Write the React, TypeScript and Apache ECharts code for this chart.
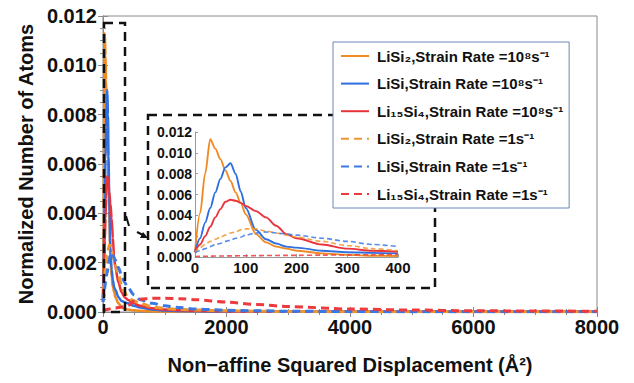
import React, { useEffect, useRef } from "react";
import * as echarts from "echarts";

// x positions (Å^2)
const xs = [0, 10, 20, 30, 40, 50, 60, 70, 80, 90, 100, 120, 140, 160, 180, 200, 250, 300, 350, 400, 500, 600, 800, 1000, 1250, 1500, 2000, 2500, 3000, 4000, 5000, 6000, 7000, 8000];

const liSi2Fast = [0.0005, 0.0042, 0.0080, 0.0113, 0.0104, 0.0094, 0.0083, 0.0073, 0.0062, 0.0052, 0.0041, 0.0022, 0.0014, 0.0010, 0.0008, 0.0006, 0.00035, 0.0002, 0.00012, 0.0001, 0.00007, 0.00005, 0.00003, 0.00002, 0.00002, 0.00001, 0.00001, 0.00001, 0.00001, 0.00001, 0.00001, 0.00001, 0.00001, 0.00001];
const liSiFast = [0.0005, 0.0018, 0.0033, 0.0047, 0.0062, 0.0075, 0.0086, 0.0090, 0.0080, 0.0063, 0.0047, 0.0026, 0.0017, 0.0013, 0.0010, 0.0009, 0.0006, 0.00045, 0.0004, 0.00035, 0.00025, 0.00018, 0.0001, 0.00006, 0.00004, 0.00003, 0.00002, 0.00001, 0.00001, 0.00001, 0.00001, 0.00001, 0.00001, 0.00001];
const li15Si4Fast = [0.0005, 0.0012, 0.0020, 0.0029, 0.0038, 0.0046, 0.0053, 0.0055, 0.0054, 0.0052, 0.0049, 0.0044, 0.0038, 0.0030, 0.0022, 0.0018, 0.0012, 0.0008, 0.0006, 0.0005, 0.00035, 0.00025, 0.00015, 0.0001, 0.00007, 0.00005, 0.00003, 0.00002, 0.00002, 0.00001, 0.00001, 0.00001, 0.00001, 0.00001];
const liSi2Slow = [0.0004, 0.0009, 0.0012, 0.0015, 0.0017, 0.0019, 0.0021, 0.0023, 0.0024, 0.0026, 0.0027, 0.0027, 0.0025, 0.0023, 0.0021, 0.0019, 0.0015, 0.0011, 0.0008, 0.0006, 0.00045, 0.00035, 0.0002, 0.00015, 0.0001, 0.00008, 0.00005, 0.00003, 0.00002, 0.00001, 0.00001, 0.00001, 0.00001, 0.00001];
const liSiSlow = [0.0004, 0.0006, 0.0008, 0.0010, 0.0012, 0.0013, 0.0015, 0.0016, 0.0018, 0.0019, 0.0021, 0.0023, 0.0024, 0.0023, 0.0022, 0.0021, 0.0018, 0.0015, 0.0012, 0.0010, 0.0007, 0.0005, 0.00035, 0.00025, 0.00018, 0.00012, 0.00007, 0.00005, 0.00003, 0.00002, 0.00001, 0.00001, 0.00001, 0.00001];
const li15Si4Slow = [0.00005, 0.00006, 0.00007, 0.00008, 0.00009, 0.0001, 0.0001, 0.00011, 0.00011, 0.00012, 0.00012, 0.00013, 0.00014, 0.00015, 0.00016, 0.00016, 0.00018, 0.0002, 0.00022, 0.00025, 0.00045, 0.00052, 0.00056, 0.00056, 0.00054, 0.0005, 0.0004, 0.0003, 0.00022, 0.00012, 0.00008, 0.00005, 0.00004, 0.00003];

const seriesNames = [
  "LiSi₂,Strain Rate =10⁸s⁻¹",
  "LiSi,Strain Rate =10⁸s⁻¹",
  "Li₁₅Si₄,Strain Rate =10⁸s⁻¹",
  "LiSi₂,Strain Rate =1s⁻¹",
  "LiSi,Strain Rate =1s⁻¹",
  "Li₁₅Si₄,Strain Rate =1s⁻¹",
];
const seriesValues = [liSi2Fast, liSiFast, li15Si4Fast, liSi2Slow, liSiSlow, li15Si4Slow];
const seriesColors = ["#F08A24", "#2F6FE0", "#E8343C", "#F0962E", "#3A78E6", "#EC3A3E"];
const seriesDashed = [false, false, false, true, true, true];

const mainXTicks = { min: 0, max: 8000, interval: 2000 };
const mainYTicks = { min: 0, max: 0.012, interval: 0.002 };
const insetXTicks = { min: 0, max: 400, interval: 100 };
const insetMaxX = 400;

const FONT = "'Liberation Sans', Arial, Helvetica, sans-serif";

export default function App() {
  const ref = useRef<HTMLDivElement>(null);
  useEffect(() => {
    if (!ref.current) return;
    const chart = echarts.init(ref.current, null, { renderer: "svg" });

    const mainSeries = seriesNames.map((name, k) => ({
      type: "line",
      name,
      xAxisIndex: 0,
      yAxisIndex: 0,
      data: xs.map((x, i) => [x, seriesValues[k][i]]),
      symbol: "none",
      smooth: 0.3,
      smoothMonotone: "x",
      z: seriesDashed[k] ? 4 : 3,
      itemStyle: { color: seriesColors[k] },
      lineStyle: {
        color: seriesColors[k],
        width: seriesDashed[k] ? 3 : 2.5,
        type: seriesDashed[k] ? [8, 5] : "solid",
      },
    }));
    const insetSeries = seriesNames.map((name, k) => ({
      type: "line",
      name,
      xAxisIndex: 2,
      yAxisIndex: 2,
      data: xs.filter((x) => x <= insetMaxX).map((x, i) => [x, seriesValues[k][i]]),
      symbol: "none",
      smooth: 0.3,
      smoothMonotone: "x",
      z: 3,
      itemStyle: { color: seriesColors[k] },
      lineStyle: {
        color: seriesColors[k],
        width: seriesDashed[k] ? 1.6 : 1.9,
        type: seriesDashed[k] ? [5, 3] : "solid",
        opacity: seriesDashed[k] ? 0.85 : 1,
      },
    }));

    const tickColor = "#8a8a8a";
    const mainLabel = { fontFamily: FONT, fontWeight: "bold", color: "#111" };
    const plain = (v: number) => String(v);

    chart.setOption({
      animation: false,
      backgroundColor: "#fff",
      grid: [
        { left: 103, top: 16, width: 494, height: 296, show: true, borderColor: tickColor, borderWidth: 1 },
        { left: 195, top: 132, width: 203, height: 125 },
      ],
      legend: {
        orient: "vertical",
        left: 333,
        top: 42,
        data: seriesNames,
        backgroundColor: "#fff",
        borderColor: "#6b86b8",
        borderWidth: 1,
        padding: [5, 6, 5, 7],
        itemGap: 9.6,
        itemWidth: 28,
        itemHeight: 14,
        z: 10,
        itemStyle: { opacity: 0 },
        lineStyle: { width: 2 },
        textStyle: { fontFamily: FONT, fontWeight: "bold", fontSize: 15, color: "#111", lineHeight: 18, padding: [0, 0, 0, 3] },
      },
      xAxis: [
        {
          gridIndex: 0, type: "value", position: "bottom", ...mainXTicks,
          axisLine: { show: true, lineStyle: { color: tickColor } },
          axisTick: { inside: true, length: 5, lineStyle: { color: tickColor } },
          minorTick: { show: true, splitNumber: 4, length: 3, lineStyle: { color: tickColor } },
          splitLine: { show: false },
          axisLabel: { ...mainLabel, fontSize: 20, margin: 5, formatter: plain },
          name: "Non−affine Squared Displacement (Å²)",
          nameLocation: "middle",
          nameGap: 43,
          nameTextStyle: { ...mainLabel, fontSize: 20 },
        },
        {
          gridIndex: 0, type: "value", position: "top", ...mainXTicks,
          axisLine: { show: true, lineStyle: { color: tickColor } },
          axisTick: { inside: true, length: 5, lineStyle: { color: tickColor } },
          minorTick: { show: true, splitNumber: 4, length: 3, lineStyle: { color: tickColor } },
          splitLine: { show: false },
          axisLabel: { show: false },
        },
        {
          gridIndex: 1, type: "value", position: "bottom", ...insetXTicks,
          axisLine: { show: true, lineStyle: { color: "#999" } },
          axisTick: { inside: true, length: 3, lineStyle: { color: "#999" } },
          splitLine: { show: false },
          axisLabel: { ...mainLabel, fontSize: 15, margin: 3, formatter: plain },
        },
      ],
      yAxis: [
        {
          gridIndex: 0, type: "value", position: "left", ...mainYTicks,
          axisLine: { show: true, lineStyle: { color: tickColor } },
          axisTick: { inside: true, length: 5, lineStyle: { color: tickColor } },
          minorTick: { show: true, splitNumber: 4, length: 3, lineStyle: { color: tickColor } },
          splitLine: { show: false },
          axisLabel: { ...mainLabel, fontSize: 20, margin: 6, formatter: (v: number) => v.toFixed(3) },
          name: "Normalized Number of Atoms",
          nameLocation: "middle",
          nameRotate: 90,
          nameGap: 61,
          nameTextStyle: { ...mainLabel, fontSize: 20 },
        },
        {
          gridIndex: 0, type: "value", position: "right", ...mainYTicks,
          axisLine: { show: true, lineStyle: { color: tickColor } },
          axisTick: { inside: true, length: 5, lineStyle: { color: tickColor } },
          minorTick: { show: true, splitNumber: 4, length: 3, lineStyle: { color: tickColor } },
          splitLine: { show: false },
          axisLabel: { show: false },
        },
        {
          gridIndex: 1, type: "value", position: "left", ...mainYTicks,
          axisLine: { show: true, lineStyle: { color: "#999" } },
          axisTick: { inside: true, length: 3, lineStyle: { color: "#999" } },
          splitLine: { show: false },
          axisLabel: { ...mainLabel, fontSize: 14, margin: 3, formatter: (v: number) => v.toFixed(3) },
        },
      ],
      graphic: [
        {
          type: "rect", z: 5,
          shape: { x: 148, y: 115, width: 287, height: 173 },
          style: { fill: "none", stroke: "#111", lineWidth: 2.5, lineDash: [9, 6] },
        },
        {
          type: "rect", z: 5,
          shape: { x: 104, y: 23, width: 21, height: 289 },
          style: { fill: "none", stroke: "#111", lineWidth: 2.5, lineDash: [9, 6] },
        },
        {
          type: "polyline", z: 5,
          shape: { points: [[126, 216], [129, 226]] },
          style: { stroke: "#111", lineWidth: 2, fill: "none" },
        },
        {
          type: "polyline", z: 5,
          shape: { points: [[137, 232], [143, 235]] },
          style: { stroke: "#111", lineWidth: 2, fill: "none" },
        },
        {
          type: "polygon", z: 5,
          shape: { points: [[148, 238], [140, 238], [143, 232]] },
          style: { fill: "#111" },
        },
      ],
      series: [...mainSeries, ...insetSeries],
    });
    return () => chart.dispose();
  }, []);
  return <div ref={ref} style={{ position: "fixed", left: 0, top: 0, width: 634, height: 383 }} />;
}
